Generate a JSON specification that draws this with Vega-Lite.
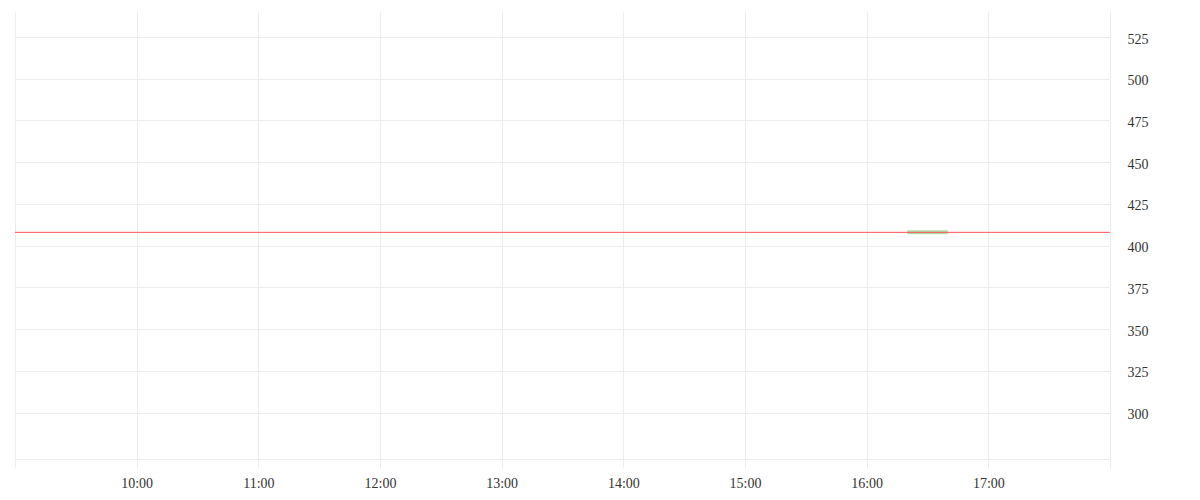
{
  "$schema": "https://vega.github.io/schema/vega-lite/v6.json",
  "width": 1095,
  "height": 447,
  "autosize": "none",
  "padding": {"left": 15, "top": 12, "right": 90, "bottom": 41},
  "background": "white",
  "config": {
    "view": {"stroke": null},
    "font": "Liberation Serif"
  },
  "datasets": {
    "price": [
      {"time": "2024-01-02T09:00:00", "value": 408},
      {"time": "2024-01-02T18:00:00", "value": 408}
    ],
    "segment": [
      {"start": "2024-01-02T16:20:00", "end": "2024-01-02T16:40:00", "value": 408}
    ]
  },
  "layer": [
    {
      "data": {"name": "segment"},
      "mark": {"type": "rule", "color": "#8fd08f", "strokeWidth": 4, "opacity": 0.7},
      "encoding": {
        "x": {
          "field": "start",
          "type": "temporal",
          "scale": {
            "domain": [
              {"year": 2024, "month": 1, "date": 2, "hours": 9},
              {"year": 2024, "month": 1, "date": 2, "hours": 18}
            ]
          },
          "axis": {
            "title": null,
            "format": "%H:%M",
            "values": [
              {"year": 2024, "month": 1, "date": 2, "hours": 9},
              {"year": 2024, "month": 1, "date": 2, "hours": 10},
              {"year": 2024, "month": 1, "date": 2, "hours": 11},
              {"year": 2024, "month": 1, "date": 2, "hours": 12},
              {"year": 2024, "month": 1, "date": 2, "hours": 13},
              {"year": 2024, "month": 1, "date": 2, "hours": 14},
              {"year": 2024, "month": 1, "date": 2, "hours": 15},
              {"year": 2024, "month": 1, "date": 2, "hours": 16},
              {"year": 2024, "month": 1, "date": 2, "hours": 17},
              {"year": 2024, "month": 1, "date": 2, "hours": 18}
            ],
            "labelExpr": "hours(datum.value) == 9 || hours(datum.value) == 18 ? '' : datum.label",
            "grid": true,
            "gridColor": "#ececec",
            "tickColor": "#ececec",
            "tickSize": 9,
            "domainColor": "#ececec",
            "labelFontSize": 14,
            "labelColor": "#333333",
            "labelPadding": 8,
            "labelFont": "Liberation Serif"
          }
        },
        "x2": {"field": "end"},
        "y": {
          "field": "value",
          "type": "quantitative",
          "scale": {"domain": [272.2, 540], "nice": false, "zero": false},
          "axis": {
            "title": null,
            "orient": "right",
            "values": [300, 325, 350, 375, 400, 425, 450, 475, 500, 525],
            "grid": true,
            "gridColor": "#ececec",
            "ticks": false,
            "domain": false,
            "labelFontSize": 14,
            "labelColor": "#333333",
            "labelPadding": 17,
            "labelOffset": 2,
            "labelFont": "Liberation Serif"
          }
        }
      }
    },
    {
      "data": {"name": "price"},
      "mark": {"type": "line", "color": "#ff5555", "strokeWidth": 1},
      "encoding": {
        "x": {"field": "time", "type": "temporal"},
        "y": {"field": "value", "type": "quantitative"}
      }
    }
  ]
}
